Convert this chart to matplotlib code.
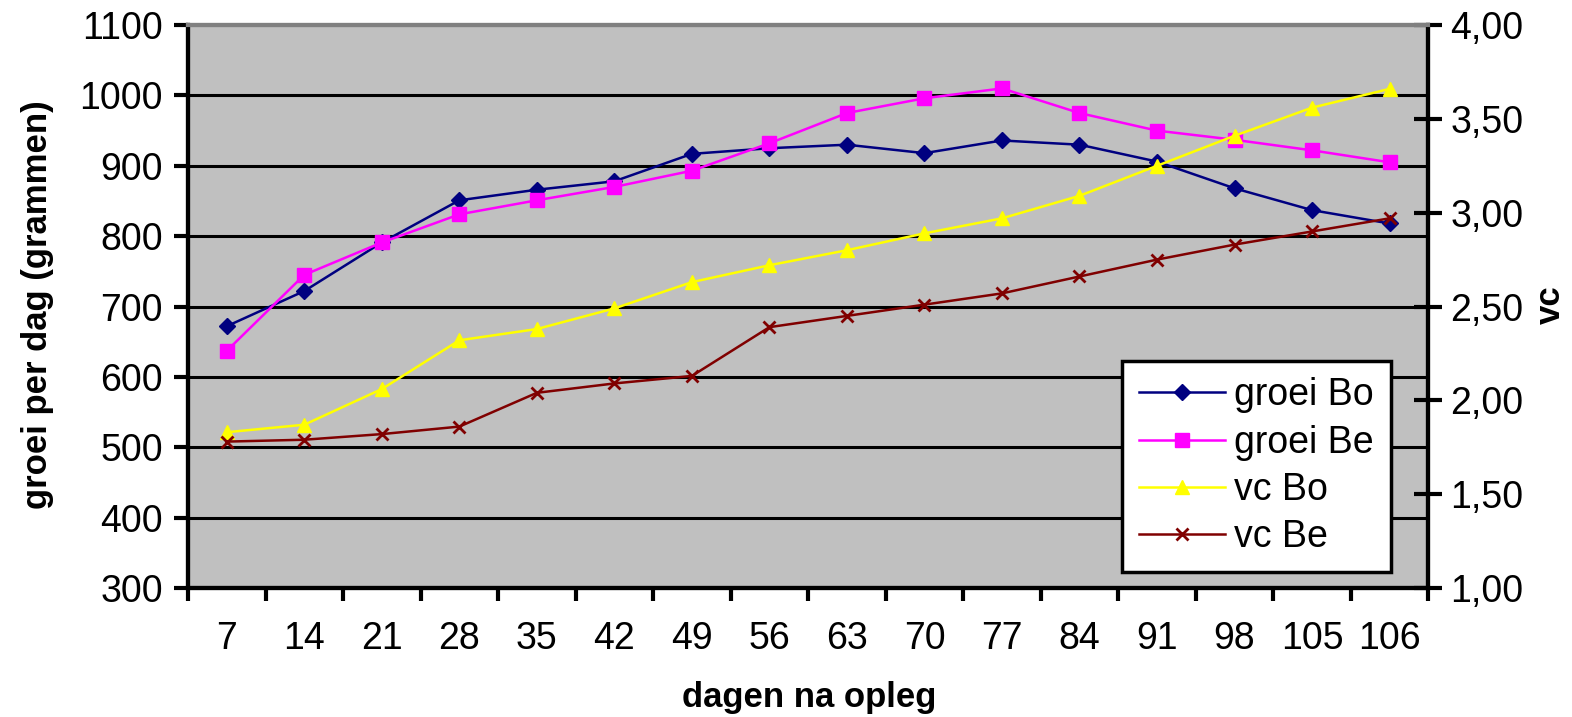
import numpy as np
import matplotlib.pyplot as plt

plt.rcParams['font.family'] = ['Liberation Sans', 'DejaVu Sans']

# data
dagen = ['7', '14', '21', '28', '35', '42', '49', '56', '63', '70', '77', '84', '91', '98', '105', '106']
groei_bo = [672, 722, 791, 851, 866, 878, 917, 925, 930, 918, 936, 930, 906, 868, 837, 818]
groei_be = [637, 745, 791, 831, 851, 870, 893, 932, 975, 996, 1010, 975, 950, 937, 922, 905]
vc_bo = [1.83, 1.87, 2.06, 2.32, 2.38, 2.49, 2.63, 2.72, 2.80, 2.89, 2.97, 3.09, 3.25, 3.41, 3.56, 3.66]
vc_be = [1.78, 1.79, 1.82, 1.86, 2.04, 2.09, 2.13, 2.39, 2.45, 2.51, 2.57, 2.66, 2.75, 2.83, 2.90, 2.97]

left_ticks = [300, 400, 500, 600, 700, 800, 900, 1000, 1100]
right_ticks = [1.0, 1.5, 2.0, 2.5, 3.0, 3.5, 4.0]

FS = 27
x = np.arange(len(dagen))

fig = plt.figure(figsize=(15.72, 7.17), dpi=100)
ax = fig.add_axes([0.1196, 0.180, 0.789, 0.785])
ax2 = ax.twinx()

ax.set_facecolor('#C0C0C0')
for v in left_ticks[1:-1]:
    ax.axhline(v, color='black', lw=2.2, zorder=1)

l1, = ax.plot(x, groei_bo, color='#000080', lw=1.8, marker='D', ms=8, zorder=3)
l2, = ax.plot(x, groei_be, color='#FF00FF', lw=1.8, marker='s', ms=10, zorder=3)
l3, = ax2.plot(x, vc_bo, color='#FFFF00', lw=1.8, marker='^', ms=10, zorder=3)
l4, = ax2.plot(x, vc_be, color='#800000', lw=1.8, marker='x', ms=9, mew=2, zorder=3)

ax.set_xlim(-0.5, len(dagen) - 0.5)
ax.set_ylim(300, 1100)
ax2.set_ylim(1, 4)

ax.set_yticks(left_ticks)
ax.set_yticklabels([str(v) for v in left_ticks], fontsize=FS)
ax2.set_yticks(right_ticks)
ax2.set_yticklabels([('%.2f' % v).replace('.', ',') for v in right_ticks], fontsize=FS)

ax.set_xticks(np.arange(len(dagen) + 1) - 0.5)
ax.set_xticklabels([])
ax.set_xticks(x, minor=True)
ax.set_xticklabels(dagen, minor=True, fontsize=FS)
ax.tick_params(axis='x', which='major', direction='out', length=9, width=3)
ax.tick_params(axis='x', which='minor', length=0, pad=24)
ax.tick_params(axis='y', direction='out', length=10, width=3, pad=8)
ax2.tick_params(axis='y', direction='inout', length=20, width=3, pad=6)

for a in (ax, ax2):
    for s in ['left', 'right', 'bottom']:
        a.spines[s].set_linewidth(3)
        a.spines[s].set_color('black')
    a.spines['top'].set_color('#808080')
    a.spines['top'].set_linewidth(3)

fig.text(0.515, 1 - 697 / 717, 'dagen na opleg', fontsize=25, fontweight='bold',
         ha='center', va='center')
fig.text(38 / 1572, 0.575, 'groei per dag (grammen)', fontsize=25, fontweight='bold',
         ha='center', va='center', rotation=90)
fig.text(1550 / 1572, 0.575, 'vc', fontsize=25, fontweight='bold',
         ha='center', va='center', rotation=90)

leg = ax2.legend([l1, l2, l3, l4], ['groei Bo', 'groei Be', 'vc Bo', 'vc Be'],
                 loc='lower right', bbox_to_anchor=(0.985, -0.005), fontsize=27,
                 fancybox=False, framealpha=1, edgecolor='black',
                 handlelength=2.3, handletextpad=0.25, labelspacing=0.3,
                 borderpad=0.45)
leg.get_frame().set_linewidth(2.5)

fig.savefig('out.png', dpi=100)
